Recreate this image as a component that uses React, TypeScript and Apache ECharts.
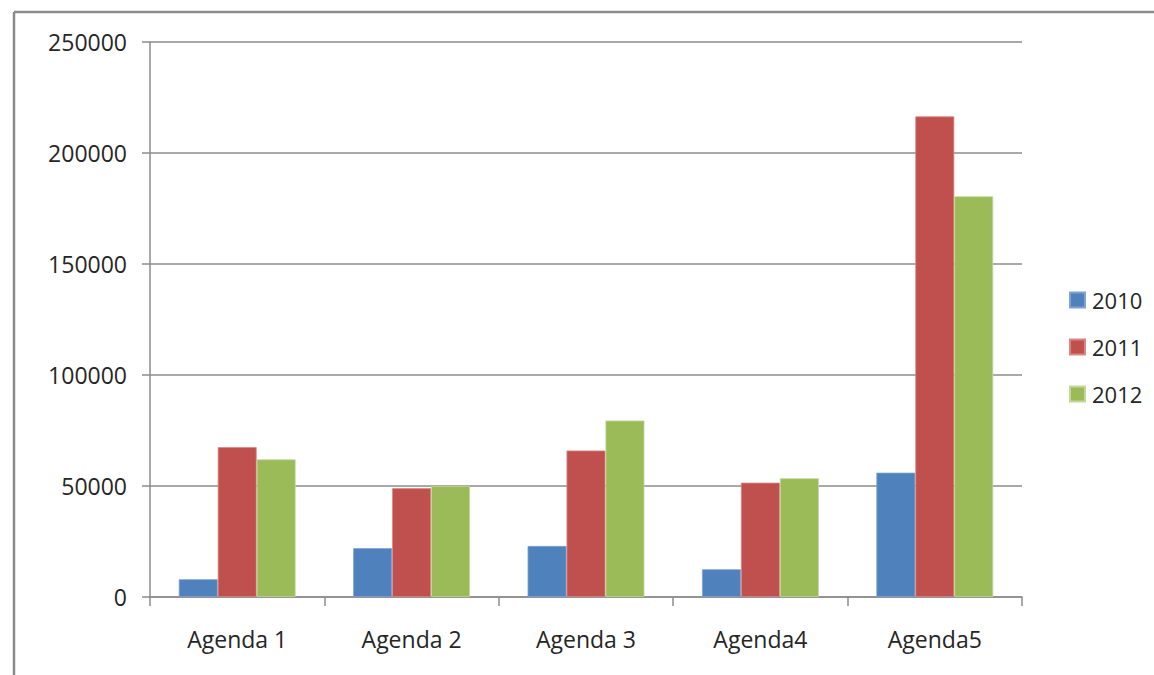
import React, { useEffect, useRef } from "react";
import * as echarts from "echarts";

const categories = ["Agenda 1", "Agenda 2", "Agenda 3", "Agenda4", "Agenda5"];
const seriesNames = ["2010", "2011", "2012"];
const values2010 = [8000, 22000, 23000, 12500, 56000];
const values2011 = [67500, 49000, 66000, 51500, 216500];
const values2012 = [62000, 50000, 79500, 53500, 180500];
const colors = ["#4F81BD", "#C0504D", "#9BBB59"];
const edgeColors = ["#7FA3D2", "#D98785", "#C3D89A"];

const FONT = "'Open Sans', sans-serif";

export default function App() {
  const ref = useRef<HTMLDivElement>(null);
  useEffect(() => {
    if (!ref.current) return;
    const chart = echarts.init(ref.current, null, { renderer: "svg" });
    const data = [values2010, values2011, values2012];
    chart.setOption({
      animation: false,
      backgroundColor: "#ffffff",
      grid: { left: 150, right: 132, top: 42, bottom: 78, containLabel: false },
      legend: {
        orient: "vertical",
        left: 1064,
        top: 284,
        itemWidth: 15,
        itemHeight: 15,
        itemGap: 25,
        icon: "rect",
        data: seriesNames,
        textStyle: { fontFamily: FONT, fontSize: 22, color: "#262626", padding: [0, 0, 0, 2] },
      },
      xAxis: {
        type: "category",
        data: categories,
        boundaryGap: true,
        axisLine: { show: true, lineStyle: { color: "#8c8c8c", width: 1.5 } },
        axisTick: { show: true, length: 9, alignWithLabel: false, lineStyle: { color: "#8c8c8c", width: 1.5 } },
        axisLabel: { fontFamily: FONT, fontSize: 23, color: "#262626", margin: 30 },
        splitLine: { show: false },
      },
      yAxis: {
        type: "value",
        min: 0,
        max: 250000,
        interval: 50000,
        axisLine: { show: true, lineStyle: { color: "#8c8c8c", width: 1.5 } },
        axisTick: { show: true, length: 8, lineStyle: { color: "#8c8c8c", width: 1.5 } },
        axisLabel: {
          fontFamily: FONT,
          fontSize: 23,
          color: "#262626",
          margin: 23,
          formatter: (v: number) => String(v),
        },
        splitLine: { show: true, lineStyle: { color: "#8c8c8c", width: 1.5 } },
      },
      series: seriesNames.map((name, i) => ({
        name,
        type: "bar",
        data: data[i],
        barGap: "0%",
        barCategoryGap: "33%",
        itemStyle: { color: colors[i], borderColor: edgeColors[i], borderWidth: 0.8 },
      })),
      graphic: [
        {
          type: "line",
          shape: { x1: 14, y1: 12, x2: 1154, y2: 12 },
          style: { stroke: "#8a8a8a", lineWidth: 2.5 },
        },
        {
          type: "line",
          shape: { x1: 14, y1: 12, x2: 14, y2: 675 },
          style: { stroke: "#8a8a8a", lineWidth: 2.5 },
        },
      ],
    });
    return () => chart.dispose();
  }, []);
  return (
    <div
      ref={ref}
      style={{ position: "fixed", left: 0, top: 0, width: 1154, height: 675, background: "#fff" }}
    />
  );
}
